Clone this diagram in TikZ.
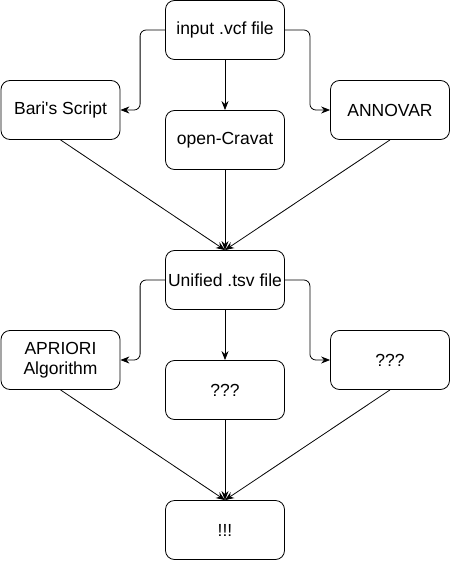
\documentclass[tikz,border=0pt]{standalone}
\usepackage{fontspec}
\setmainfont{Liberation Sans}
\usetikzlibrary{arrows.meta}

\tikzset{
	box/.style={draw, rounded corners=9pt, minimum width=119pt, minimum height=59pt, align=center, inner sep=2pt, font=\fontsize{17.5}{20}\selectfont, line width=0.8pt},
	flow/.style={-{Stealth[length=9pt,width=7pt]}, line width=0.8pt, rounded corners=6pt}
}

\begin{document}
\begin{tikzpicture}[x=1pt, y=-1pt]
	\useasboundingbox (0,0) rectangle (451,561);
	
	% first stage
	\node[box] (vcf) at (225,30) {input .vcf file};
	\node[box] (bari) at (60.5,110) {Bari\textquotesingle s Script};
	\node[box] (cravat) at (225,140) {open-Cravat};
	\node[box] (annovar) at (390,110) {ANNOVAR};
	
	\node[box] (tsv) at (225,280) {Unified .tsv file};
	
	% second stage
	\node[box] (apriori) at (60.5,360) {APRIORI\\Algorithm};
	\node[box] (qmid) at (225,390) {???};
	\node[box] (qright) at (390,360) {???};
	
	\node[box] (bang) at (225,530) {!!!};
	
	\draw[flow] (vcf.west) -- ++(-25,0) |- (bari.east);
	\draw[flow] (vcf.south) -- (cravat.north);
	\draw[flow] (vcf.east) -- ++(25,0) |- (annovar.west);
	
	\draw[flow] (bari.south) -- (tsv.north);
	\draw[flow] (cravat.south) -- (tsv.north);
	\draw[flow] (annovar.south) -- (tsv.north);
	
	\draw[flow] (tsv.west) -- ++(-25,0) |- (apriori.east);
	\draw[flow] (tsv.south) -- (qmid.north);
	\draw[flow] (tsv.east) -- ++(25,0) |- (qright.west);
	
	\draw[flow] (apriori.south) -- (bang.north);
	\draw[flow] (qmid.south) -- (bang.north);
	\draw[flow] (qright.south) -- (bang.north);
\end{tikzpicture}
\end{document}
